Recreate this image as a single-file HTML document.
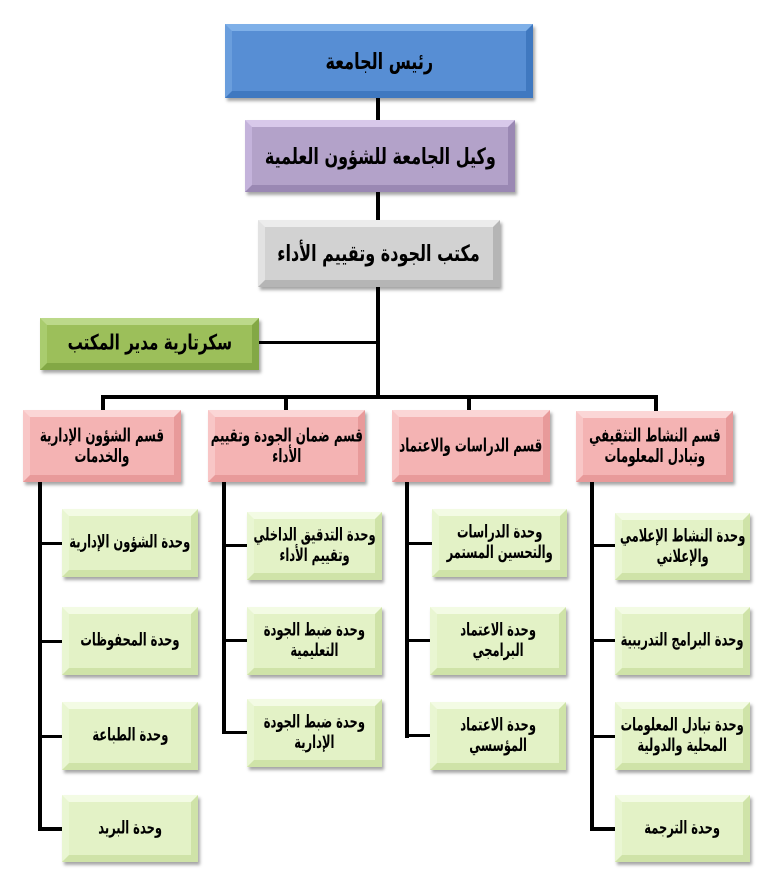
<!DOCTYPE html>
<html><head><meta charset="utf-8"><style>
body{margin:0;width:781px;height:889px;background:#fff;position:relative;overflow:hidden;font-family:"DejaVu Sans","Liberation Sans",sans-serif;}
.b{position:absolute;box-sizing:border-box;display:flex;align-items:center;justify-content:center;text-align:center;direction:rtl;font-weight:bold;color:#000;border-style:solid;border-width:7px;box-shadow:2px 3px 3px rgba(0,0,0,0.35);line-height:1.15;padding:0;white-space:nowrap;}
.b span{display:inline-block;transform:scale(0.8,1.12);}
.pk span,.lg span{transform:scale(0.74,1.15);}
.l{position:absolute;background:#000;}
.blue{background:#578ed4;border-color:#7fb0e8 #3f78c0 #3f78c0 #6a9edd;font-size:20px;}
.pur{background:#b3a2c9;border-color:#d8c9ea #9a88b3 #9a88b3 #c4b3db;font-size:20px;}
.gry{background:#d2d2d2;border-color:#ececec #b5b5b5 #b5b5b5 #e2e2e2;font-size:20px;}
.grn{background:#9cbf5a;border-color:#bcd98a #83a845 #83a845 #a9cc6e;font-size:19px;}
.pk{background:#f4b3b3;border-color:#fbd6d6 #e89a9a #e89a9a #f8c6c6;font-size:16px;}
.lg{background:#e3f2c6;border-color:#f3fbe4 #cfe3a8 #cfe3a8 #e9f6d2;font-size:15.5px;}
</style></head><body>
<div class="l" style="left:376px;top:97px;width:4px;height:300px"></div>
<div class="l" style="left:259px;top:341px;width:119px;height:3px"></div>
<div class="l" style="left:101px;top:395px;width:557px;height:4px"></div>
<div class="l" style="left:101px;top:395px;width:4px;height:16px"></div>
<div class="l" style="left:284px;top:395px;width:4px;height:16px"></div>
<div class="l" style="left:467px;top:395px;width:4px;height:16px"></div>
<div class="l" style="left:654px;top:395px;width:4px;height:16px"></div>

<div class="l" style="left:38px;top:481px;width:4px;height:350px"></div>
<div class="l" style="left:38px;top:542px;width:24px;height:3px"></div>
<div class="l" style="left:38px;top:640px;width:24px;height:3px"></div>
<div class="l" style="left:38px;top:735px;width:24px;height:3px"></div>
<div class="l" style="left:38px;top:827px;width:24px;height:4px"></div>

<div class="l" style="left:222px;top:481px;width:4px;height:253px"></div>
<div class="l" style="left:222px;top:544px;width:25px;height:3px"></div>
<div class="l" style="left:222px;top:639px;width:25px;height:3px"></div>
<div class="l" style="left:222px;top:731px;width:25px;height:3px"></div>

<div class="l" style="left:405px;top:481px;width:4px;height:257px"></div>
<div class="l" style="left:405px;top:542px;width:27px;height:3px"></div>
<div class="l" style="left:405px;top:639px;width:27px;height:3px"></div>
<div class="l" style="left:405px;top:734px;width:27px;height:3px"></div>

<div class="l" style="left:590px;top:481px;width:4px;height:350px"></div>
<div class="l" style="left:590px;top:544px;width:25px;height:3px"></div>
<div class="l" style="left:590px;top:639px;width:25px;height:3px"></div>
<div class="l" style="left:590px;top:735px;width:25px;height:3px"></div>
<div class="l" style="left:590px;top:827px;width:25px;height:4px"></div>

<div class="b blue" style="left:225px;top:24px;width:308px;height:74px"><span>رئيس الجامعة</span></div>
<div class="b pur" style="left:245px;top:120px;width:270px;height:72px"><span>وكيل الجامعة للشؤون العلمية</span></div>
<div class="b gry" style="left:258px;top:220px;width:242px;height:67px"><span>مكتب الجودة وتقييم الأداء</span></div>
<div class="b grn" style="left:40px;top:318px;width:219px;height:52px"><span>سكرتارية مدير المكتب</span></div>

<div class="b pk" style="left:23px;top:410px;width:158px;height:72px"><span>قسم الشؤون الإدارية<br>والخدمات</span></div>
<div class="b pk" style="left:208px;top:410px;width:157px;height:72px"><span>قسم ضمان الجودة وتقييم<br>الأداء</span></div>
<div class="b pk" style="left:392px;top:410px;width:158px;height:72px"><span>قسم الدراسات والاعتماد</span></div>
<div class="b pk" style="left:576px;top:411px;width:157px;height:71px"><span>قسم النشاط التثقيفي<br>وتبادل المعلومات</span></div>

<div class="b lg" style="left:62px;top:509px;width:136px;height:68px"><span>وحدة الشؤون الإدارية</span></div>
<div class="b lg" style="left:62px;top:607px;width:136px;height:68px"><span>وحدة المحفوظات</span></div>
<div class="b lg" style="left:62px;top:702px;width:136px;height:68px"><span>وحدة الطباعة</span></div>
<div class="b lg" style="left:62px;top:795px;width:136px;height:67px"><span>وحدة البريد</span></div>

<div class="b lg" style="left:247px;top:512px;width:135px;height:68px"><span>وحدة التدقيق الداخلي<br>وتقييم الأداء</span></div>
<div class="b lg" style="left:247px;top:607px;width:135px;height:68px"><span>وحدة ضبط الجودة<br>التعليمية</span></div>
<div class="b lg" style="left:247px;top:699px;width:135px;height:68px"><span>وحدة ضبط الجودة<br>الإدارية</span></div>

<div class="b lg" style="left:432px;top:509px;width:135px;height:68px"><span>وحدة الدراسات<br>والتحسين المستمر</span></div>
<div class="b lg" style="left:430px;top:607px;width:136px;height:68px"><span>وحدة الاعتماد<br>البرامجي</span></div>
<div class="b lg" style="left:430px;top:702px;width:136px;height:68px"><span>وحدة الاعتماد<br>المؤسسي</span></div>

<div class="b lg" style="left:615px;top:513px;width:135px;height:67px"><span>وحدة النشاط الإعلامي<br>والإعلاني</span></div>
<div class="b lg" style="left:615px;top:607px;width:135px;height:68px"><span>وحدة البرامج التدريبية</span></div>
<div class="b lg" style="left:615px;top:702px;width:135px;height:68px"><span>وحدة تبادل المعلومات<br>المحلية والدولية</span></div>
<div class="b lg" style="left:615px;top:795px;width:135px;height:67px"><span>وحدة الترجمة</span></div>
</body></html>
